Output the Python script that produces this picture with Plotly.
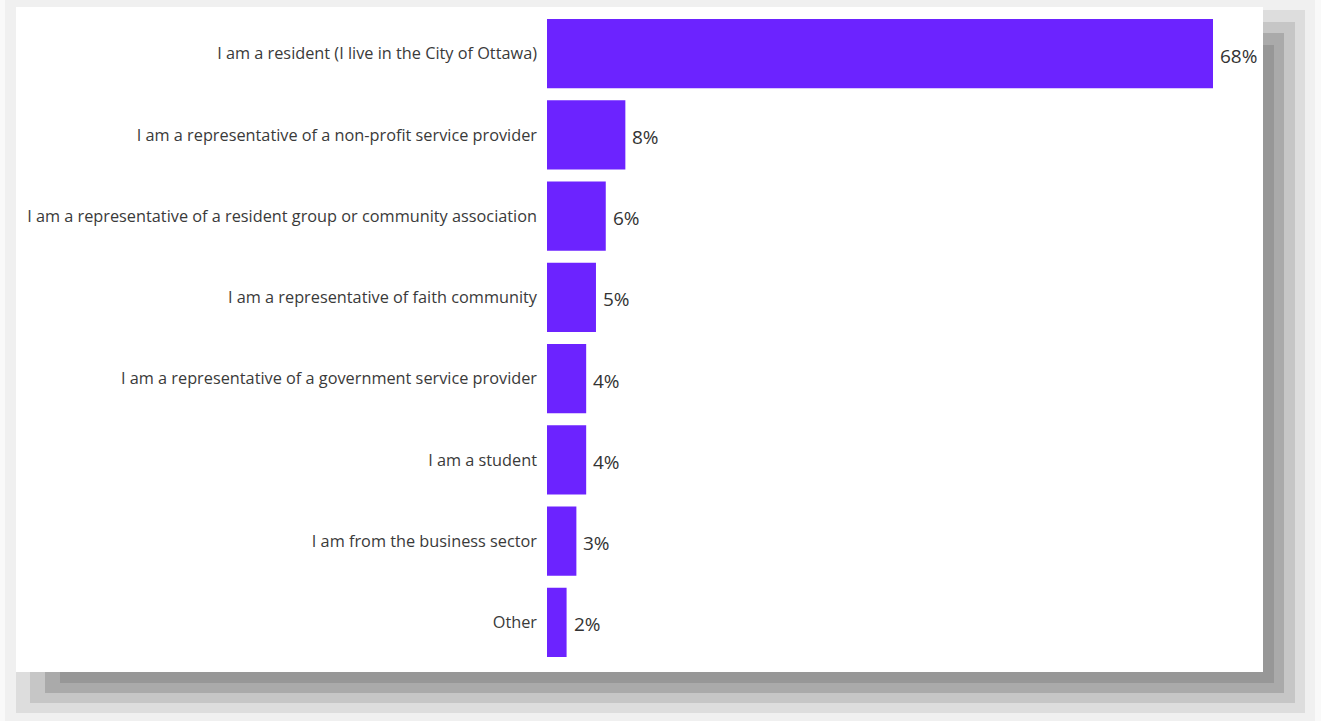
import plotly.graph_objects as go

# Respondent categories (top to bottom) and their share in percent
categories = [
    "I am a resident (I live in the City of Ottawa)",
    "I am a representative of a non-profit service provider",
    "I am a representative of a resident group or community association",
    "I am a representative of faith community",
    "I am a representative of a government service provider",
    "I am a student",
    "I am from the business sector",
    "Other",
]
shares = [68, 8, 6, 5, 4, 4, 3, 2]
labels = [f"{v}%" for v in shares]

W, H = 1321, 721
ML, MR, MT, MB = 547, 58, 13, 58
PW, PH = W - ML - MR, H - MT - MB


def px(x):
    return (x - ML) / PW


def py(y):
    return 1 - (y - MT) / PH


def rect(x0, y0, x1, y1, color):
    return dict(type="rect", xref="paper", yref="paper", layer="below",
                x0=px(x0), x1=px(x1), y0=py(y1), y1=py(y0),
                fillcolor=color, line=dict(width=0))


# Soft drop shadow behind the white card, built from nested bands
shapes = [
    rect(5, 0, 1315, 725, "#f0f0f0"),
    rect(16, 10, 1305, 713, "#dddddd"),
    rect(30, 22, 1295, 703, "#c6c6c6"),
    rect(45, 33, 1284, 693, "#aaaaaa"),
    rect(60, 45, 1274, 683, "#979797"),
    rect(16, 7, 1263, 672, "#ffffff"),
]

fig = go.Figure(go.Bar(
    x=shares,
    y=categories,
    orientation="h",
    marker=dict(color="#6c23ff", line=dict(width=0)),
    hoverinfo="skip",
))

for cat, v, lab in zip(categories, shares, labels):
    fig.add_annotation(x=v, y=cat, text=lab, showarrow=False,
                       xanchor="left", yanchor="middle", xshift=5, yshift=-2,
                       font=dict(family="Open Sans", size=19, color="#333333"))

fig.update_layout(
    width=W, height=H,
    margin=dict(l=ML, r=MR, t=MT, b=MB, pad=0),
    paper_bgcolor="#f9f9f9",
    plot_bgcolor="rgba(0,0,0,0)",
    bargap=0.15,
    showlegend=False,
    shapes=shapes,
    font=dict(family="Open Sans", color="#3a3a3a"),
)
fig.update_xaxes(range=[0, 68 * PW / 666], visible=False, fixedrange=True)
fig.update_yaxes(autorange="reversed", showgrid=False, showline=False,
                 zeroline=False, ticks="", ticklabelstandoff=9,
                 tickfont=dict(family="Open Sans", size=16.3, color="#3a3a3a"),
                 fixedrange=True)

fig.write_html("out.html", config={"displayModeBar": False})
